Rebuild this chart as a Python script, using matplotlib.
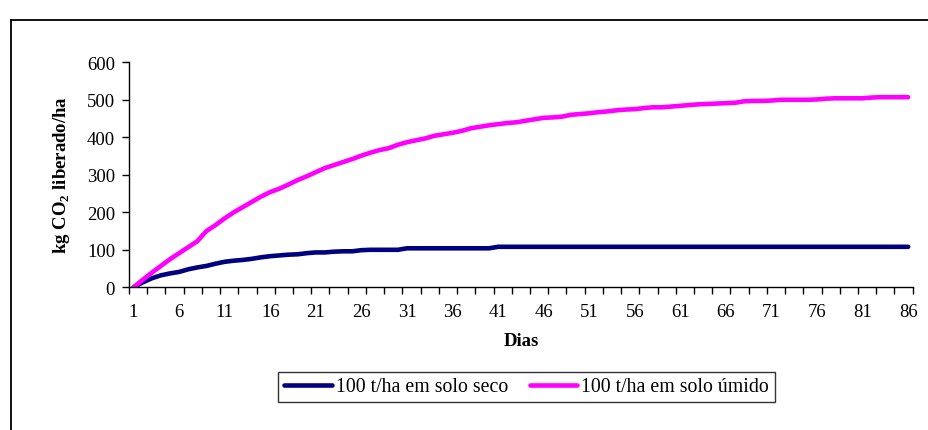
import matplotlib
matplotlib.use("Agg")
import matplotlib.pyplot as plt
from matplotlib.lines import Line2D
import numpy as np

days = list(range(1, 87))
seco = [0, 13, 24, 32, 37, 41, 48, 53, 57, 63,
        68, 71, 73, 76, 80, 83, 85, 87, 88, 91,
        93, 93, 95, 96, 96, 99, 100, 100, 100, 100,
        104, 104, 104, 104, 104, 104, 104, 104, 104, 104] + [108] * 46
umido = [0, 20, 39, 57, 75, 91, 107, 123, 150, 166,
         184, 200, 214, 228, 242, 254, 263, 274, 286, 296,
         307, 318, 326, 334, 342, 351, 359, 366, 371, 380,
         387, 392, 397, 404, 408, 412, 417, 424, 428, 432,
         435, 438, 440, 444, 448, 452, 453, 455, 460, 462,
         464, 467, 469, 472, 474, 475, 478, 480, 480, 482,
         484, 486, 488, 489, 490, 491, 492, 496, 497, 497,
         498, 500, 500, 500, 500, 501, 503, 504, 504, 504,
         504, 506, 507, 507, 507, 507]
labels = ["100 t/ha em solo seco", "100 t/ha em solo úmido"]
xlabel = "Dias"
ylabel = r"kg CO$_{\mathbf{2}}$ liberado/ha"
yticks = [0, 100, 200, 300, 400, 500, 600]
xtick_labels = list(range(1, 87, 5))

plt.rcParams["font.family"] = ["Liberation Serif", "DejaVu Serif"]
plt.rcParams["mathtext.fontset"] = "custom"
plt.rcParams["mathtext.rm"] = "Liberation Serif"
plt.rcParams["mathtext.bf"] = "Liberation Serif:bold"

W, H = 929, 431
fig = plt.figure(figsize=(W / 100, H / 100), dpi=100)
ax = fig.add_axes([129 / W, 1 - 288.3 / H, (912.7 - 129) / W, (288.3 - 63.3) / H])

ax.plot(days, seco, color="#000080", lw=3.3, solid_capstyle="round", label=labels[0])
ax.plot(days, umido, color="#FF00FF", lw=3.3, solid_capstyle="round", label=labels[1])

ax.set_xlim(0.5, 86.5)
ax.set_ylim(0, 600)
ax.set_yticks(yticks)
ax.set_xticks(xtick_labels)
ax.set_xticks(np.arange(0.5, 87, 2), minor=True)
ax.tick_params(axis="x", which="major", length=0, pad=11, labelsize=13.5)
ax.tick_params(axis="x", which="minor", length=5, width=1, direction="out")
ax.tick_params(axis="y", which="major", length=5, width=1, direction="out", pad=5, labelsize=13.5)
for s in ["top", "right"]:
    ax.spines[s].set_visible(False)
for s in ["left", "bottom"]:
    ax.spines[s].set_linewidth(1)
    ax.spines[s].set_color("black")

fig.text(521 / W, 1 - 342 / H, xlabel, ha="center", va="center", fontsize=13.5, fontweight="bold")
fig.text(62 / W, 1 - 175 / H, ylabel, ha="center", va="center", rotation=90, fontsize=13.5, fontweight="bold")

leg = fig.legend(loc="center", bbox_to_anchor=(526.5 / W, 1 - 388 / H), ncol=2, frameon=True,
                 fancybox=False, shadow=False, fontsize=14.3, handlelength=2.4, handletextpad=0.2,
                 columnspacing=1.1, borderpad=0.3, borderaxespad=0)
leg.get_frame().set_edgecolor("black")
leg.get_frame().set_linewidth(1)

# outer chart border (extends past right and bottom edges)
fig.add_artist(Line2D([11 / W, 11 / W], [0, 1 - 21 / H], transform=fig.transFigure, color="black", lw=1.3))
fig.add_artist(Line2D([11 / W, 1], [1 - 21 / H, 1 - 21 / H], transform=fig.transFigure, color="black", lw=1.3))

fig.savefig("out.png", dpi=100)
